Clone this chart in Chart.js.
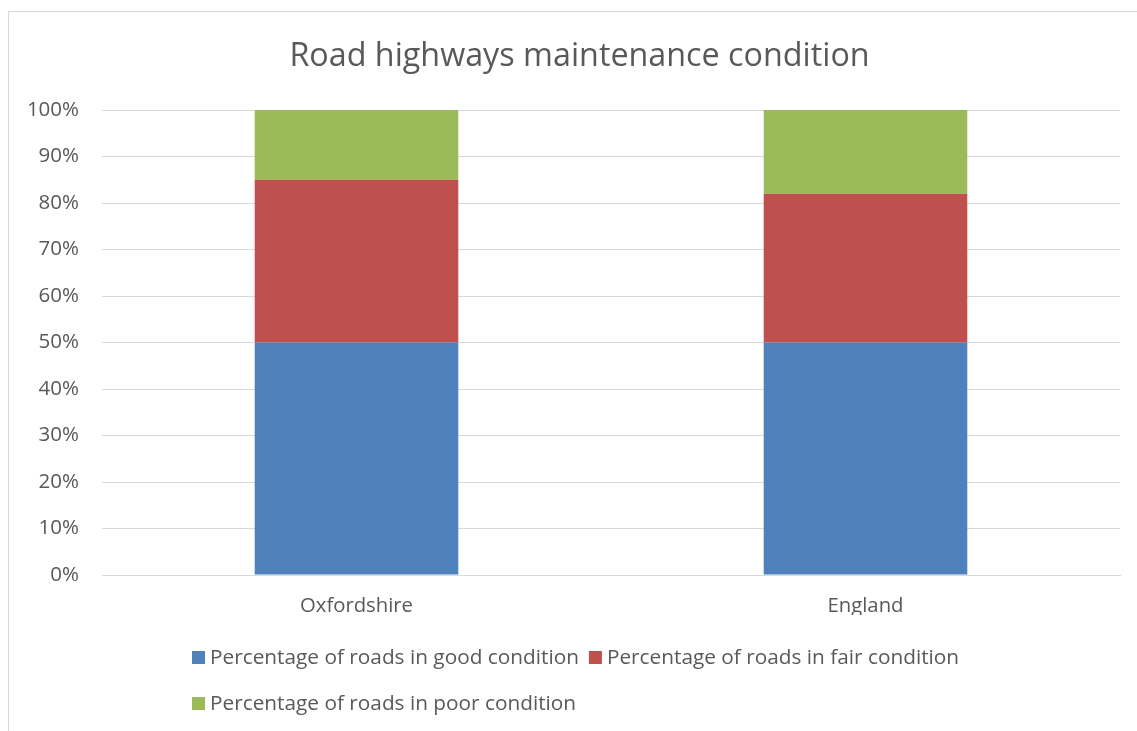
<!DOCTYPE html>
<html>
<head>
<meta charset="utf-8">
<script src="https://cdn.jsdelivr.net/npm/chart.js@4"></script>
<style>
  html, body { margin: 0; padding: 0; background: #fff; overflow: hidden; }
  #wrap { position: relative; width: 1137px; height: 731px; }
  #frame { position: absolute; left: 8px; top: 11px; width: 1400px; height: 1000px; border: 1px solid #d9d9d9; box-sizing: border-box; }
  canvas { position: absolute; left: 0; top: 0; }
</style>
</head>
<body>
<div id="wrap">
  <div id="frame"></div>
  <canvas id="c" width="1137" height="731"></canvas>
</div>
<script>
const chartTitle = 'Road highways maintenance condition';
const categories = ['Oxfordshire', 'England'];
const seriesLabels = [
  'Percentage of roads in good condition',
  'Percentage of roads in fair condition',
  'Percentage of roads in poor condition'
];
const goodValues = [50, 50];
const fairValues = [35, 32];
const poorValues = [15, 18];
const seriesColors = ['#4F81BD', '#C0504D', '#9BBB59'];

const FONT = '"Open Sans"';
const TEXT = '#595959';
const GRID = '#d9d9d9';

const titlePlugin = {
  id: 'excelTitle',
  afterDraw(chart) {
    const ctx = chart.ctx;
    ctx.save();
    ctx.font = '32.3px ' + FONT;
    ctx.fillStyle = TEXT;
    ctx.textAlign = 'center';
    ctx.textBaseline = 'middle';
    ctx.fillText(chartTitle, 579.5, 57);
    ctx.restore();
  }
};

const legendPlugin = {
  id: 'excelLegend',
  afterDraw(chart) {
    const ctx = chart.ctx;
    const ds = chart.data.datasets;
    ctx.save();
    ctx.font = '20.8px ' + FONT;
    ctx.textBaseline = 'middle';
    ctx.fillStyle = TEXT;
    const box = 13, gapBoxText = 5, gapItems = 10;
    const w = ds.map(d => ctx.measureText(d.label).width);
    const row1W = box + gapBoxText + w[0] + gapItems + box + gapBoxText + w[1];
    const startX = Math.round(575.5 - row1W / 2);
    const rows = [[0, 1], [2]];
    const rowY = [658, 704];
    rows.forEach((items, r) => {
      let x = startX;
      items.forEach(i => {
        ctx.fillStyle = ds[i].backgroundColor;
        ctx.fillRect(x, rowY[r] - 7, box, box);
        x += box + gapBoxText;
        ctx.fillStyle = TEXT;
        ctx.textAlign = 'left';
        ctx.fillText(ds[i].label, x, rowY[r]);
        x += w[i] + gapItems;
      });
    });
    ctx.restore();
  }
};

const ds = [goodValues, fairValues, poorValues].map((vals, i) => ({
  label: seriesLabels[i],
  data: vals,
  backgroundColor: seriesColors[i],
  borderWidth: 0,
  barPercentage: 0.4,
  categoryPercentage: 1.0
}));

new Chart(document.getElementById('c'), {
  type: 'bar',
  data: { labels: categories, datasets: ds },
  options: {
    responsive: false,
    animation: false,
    devicePixelRatio: 1,
    layout: { padding: { left: 0, right: 17, top: 110, bottom: 116 } },
    plugins: {
      legend: { display: false },
      tooltip: { enabled: false },
      title: { display: false }
    },
    scales: {
      x: {
        stacked: true,
        grid: { display: false, drawTicks: false },
        border: { display: true, color: GRID, width: 1 },
        ticks: { color: TEXT, font: { family: FONT, size: 20.3 }, padding: 19 },
        afterFit(s) { s.height = 40; }
      },
      y: {
        stacked: true,
        min: 0,
        max: 100,
        ticks: {
          stepSize: 10,
          color: TEXT,
          font: { family: FONT, size: 20.5 },
          padding: 23,
          callback: v => v + '%'
        },
        grid: { color: GRID, lineWidth: 1, drawTicks: false },
        border: { display: false },
        afterFit(s) { s.width = 102; }
      }
    }
  },
  plugins: [titlePlugin, legendPlugin]
});
</script>
</body>
</html>
